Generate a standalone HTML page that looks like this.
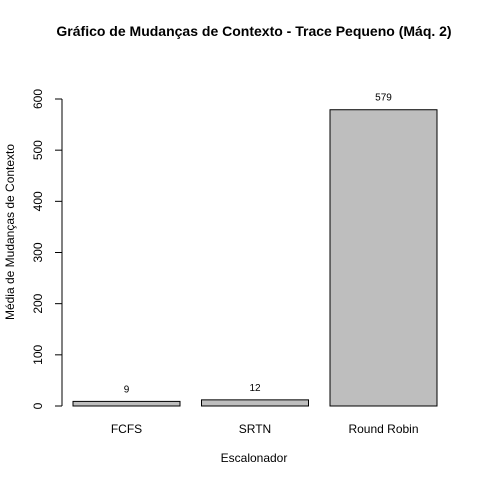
<!DOCTYPE html>
<html><head><meta charset="utf-8"><style>body{margin:0;background:#fff}svg{display:block}text{font-family:"Liberation Sans",sans-serif;fill:#000}</style></head>
<body>
<svg width="480" height="480">
<text x="254" y="36" text-anchor="middle" font-size="14" font-weight="bold">Gráfico de Mudanças de Contexto - Trace Pequeno (Máq. 2)</text>
<text x="254" y="462" text-anchor="middle" font-size="12">Escalonador</text>
<text transform="translate(14,232) rotate(-90)" text-anchor="middle" font-size="12">Média de Mudanças de Contexto</text>
<g id="yaxis"></g>
<g id="bars"></g>
</svg>
<script>
const categories = ["FCFS", "SRTN", "Round Robin"];
const values = [9, 12, 579];
const yTicks = [0, 100, 200, 300, 400, 500, 600];
const NS = "http://www.w3.org/2000/svg";
const y0 = 406, pxPer = (406 - 99) / 600;
function yScale(v) { return y0 - v * pxPer; }
function xLeft(i) { return 73 + i * 128.5; }
const bw = 107;
function mk(tag, attrs, parent) { const e = document.createElementNS(NS, tag); for (const k in attrs) e.setAttribute(k, attrs[k]); parent.appendChild(e); return e; }
const ya = document.getElementById("yaxis");
const axLine = mk("line", {x1: 62, x2: 62, y1: yScale(yTicks[0]), y2: yScale(yTicks[yTicks.length - 1]), stroke: "#000"}, ya);


yTicks.forEach(t => {
  const y = yScale(t);
  const tk = mk("line", {x1: 55, x2: 62, y1: y, y2: y, stroke: "#000"}, ya);
  
  
  const tx = mk("text", {transform: `translate(42,${y}) rotate(-90)`, "text-anchor": "middle", "font-size": 12}, ya);
  tx.textContent = t;
  
  
});
const bg = document.getElementById("bars");
categories.forEach((c, i) => {
  const x = xLeft(i), top = yScale(values[i]);
  const r = mk("rect", {x: x, y: top, width: bw, height: y0 - top, fill: "#bebebe", stroke: "#000"}, bg);
  
  
  const v = mk("text", {x: x + bw / 2, y: top - 9, "text-anchor": "middle", "font-size": 10}, bg);
  v.textContent = values[i];
  
  
  const l = mk("text", {x: x + bw / 2, y: 433, "text-anchor": "middle", "font-size": 12}, bg);
  l.textContent = c;
  
  
});
</script>
</body></html>
